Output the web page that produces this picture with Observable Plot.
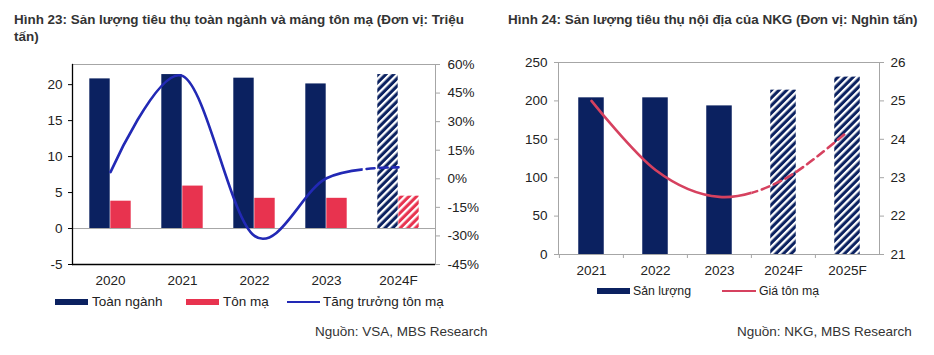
<!DOCTYPE html>
<html>
<head>
<meta charset="utf-8">
<script src="https://cdn.jsdelivr.net/npm/d3@7"></script>
<script src="https://cdn.jsdelivr.net/npm/@observablehq/plot@0.6"></script>
<style>
  body { margin: 0; background: #fff; font-family: "Liberation Sans", Arial, sans-serif; color: #222; }
  #page { position: relative; width: 934px; height: 355px; overflow: hidden; background: #fff; }
  .title { position: absolute; font-weight: bold; font-size: 13.45px; line-height: 17px; color: #333; white-space: nowrap; }
  .abs { position: absolute; white-space: nowrap; }
  .leg { position: absolute; font-size: 13.5px; line-height: 16px; white-space: nowrap; color: #222; }
  .sw { position: absolute; }
  .src { position: absolute; font-size: 13.5px; color: #333; white-space: nowrap; }
  svg { overflow: visible; }
</style>
</head>
<body>
<div id="page">
  <div class="title" style="left:14px; top:11px;">Hình 23: Sản lượng tiêu thụ toàn ngành và mảng tôn mạ (Đơn vị: Triệu<br>tấn)</div>
  <div class="title" style="left:508px; top:11px;">Hình 24: Sản lượng tiêu thụ nội địa của NKG (Đơn vị: Nghìn tấn)</div>
  <div id="c1" class="abs" style="left:0px; top:50px;"></div>
  <div id="c2" class="abs" style="left:470px; top:50px;"></div>

  <div class="sw" style="left:55px; top:299px; width:33px; height:6px; background:#0b2160;"></div>
  <div class="leg" style="left:92px; top:294px;">Toàn ngành</div>
  <div class="sw" style="left:186px; top:299px; width:33px; height:6px; background:#e8334f;"></div>
  <div class="leg" style="left:223px; top:294px;">Tôn mạ</div>
  <div class="sw" style="left:287px; top:301px; width:33px; height:2px; background:#2229b5;"></div>
  <div class="leg" style="left:323px; top:294px;">Tăng trưởng tôn mạ</div>

  <div class="sw" style="left:597px; top:288px; width:33px; height:6px; background:#0b2160;"></div>
  <div class="leg" style="left:633px; top:283px; font-size:12.3px;">Sản lượng</div>
  <div class="sw" style="left:722px; top:290px; width:34px; height:2px; background:#d6415f;"></div>
  <div class="leg" style="left:759px; top:283px; font-size:12.3px;">Giá tôn mạ</div>

  <div class="src" style="left:315px; top:324px;">Nguồn: VSA, MBS Research</div>
  <div class="src" style="left:737px; top:324px;">Nguồn: NKG, MBS Research</div>
</div>
<script>
// ---------- Data: chart 1 ----------
const years1 = ["2020", "2021", "2022", "2023", "2024F"];
const toanNganh = [20.8, 21.4, 20.9, 20.1, 21.4];
const tonMa = [3.8, 5.9, 4.2, 4.2, 4.5];
const tangTruong = [3.5, 54, -30, 0.3, 6];
const forecast1 = [false, false, false, false, true];
const leftTicks1 = [-5, 0, 5, 10, 15, 20];
const rightTicks1 = [-45, -30, -15, 0, 15, 30, 45, 60];

// ---------- Data: chart 2 ----------
const years2 = ["2021", "2022", "2023", "2024F", "2025F"];
const sanLuong = [204, 204, 193.5, 214, 231];
const giaTonMa = [25.0, 23.2, 22.5, 22.95, 24.2];
const forecast2 = [false, false, false, true, true];
const leftTicks2 = [0, 50, 100, 150, 200, 250];
const rightTicks2 = [21, 22, 23, 24, 25, 26];

const NAVY = "#0b2160", RED = "#e8334f", BLUE = "#2229b5", PINK = "#d6415f", GRAY = "#a6a6a6";
const FONT = "'Liberation Sans', Arial, sans-serif";

// dual-axis mapping
const y1Dom = [-5, 22.8], g1Dom = [-45, 60];
const g2l = g => y1Dom[0] + (g - g1Dom[0]) * (y1Dom[1] - y1Dom[0]) / (g1Dom[1] - g1Dom[0]);
const l2g = v => g1Dom[0] + (v - y1Dom[0]) * (g1Dom[1] - g1Dom[0]) / (y1Dom[1] - y1Dom[0]);
const y2Dom = [0, 250], p2Dom = [21, 26];
const p2l = p => y2Dom[0] + (p - p2Dom[0]) * (y2Dom[1] - y2Dom[0]) / (p2Dom[1] - p2Dom[0]);
const l2p = v => p2Dom[0] + (v - y2Dom[0]) * (p2Dom[1] - p2Dom[0]) / (y2Dom[1] - y2Dom[0]);

const d1 = years1.map((year, i) => ({year, total: toanNganh[i], tm: tonMa[i], g: tangTruong[i], f: forecast1[i]}));
const d2 = years2.map((year, i) => ({year, v: sanLuong[i], p: giaTonMa[i], f: forecast2[i]}));

function addPattern(defs, id, bg, fg) {
  const p = defs.append("pattern").attr("id", id).attr("patternUnits", "userSpaceOnUse")
    .attr("width", 5.4).attr("height", 5.4).attr("patternTransform", "rotate(45)");
  p.append("rect").attr("width", 5.4).attr("height", 5.4).attr("fill", bg);
  p.append("rect").attr("x", 0).attr("width", 2.3).attr("height", 5.4).attr("fill", fg);
}

function splitLines(svg, cutYear, idPrefix, W, H) {
  const sx = svg.scale("x");
  const xc = sx.apply(cutYear) + (sx.bandwidth || 0) / 2;
  const defs = d3.select(svg).select("defs");
  defs.append("clipPath").attr("id", idPrefix + "solid")
    .append("rect").attr("x", -10).attr("y", -50).attr("width", xc + 10).attr("height", H + 100);
  defs.append("clipPath").attr("id", idPrefix + "dash")
    .append("rect").attr("x", xc).attr("y", -50).attr("width", W).attr("height", H + 100);
  const lines = d3.select(svg).selectAll('g[aria-label="line"]').nodes();
  if (lines[0]) lines[0].setAttribute("clip-path", `url(#${idPrefix}solid)`);
  if (lines[1]) lines[1].setAttribute("clip-path", `url(#${idPrefix}dash)`);
}

// ---------- Chart 1 ----------
{
  const W = 470, H = 245, mL = 72, mR = 35, mT = 14, mB = 31;
  const step = (W - mL - mR) / years1.length;
  const bw = 21;
  const svg = Plot.plot({
    width: W, height: H, marginLeft: mL, marginRight: mR, marginTop: mT, marginBottom: mB,
    style: {fontFamily: FONT, fontSize: "13.5px", color: "#222", background: "transparent", overflow: "visible"},
    x: {type: "band", domain: years1, padding: 0},
    y: {domain: y1Dom},
    marks: [
      Plot.frame({stroke: GRAY}),
      Plot.barY(d1.filter(d => !d.f), {x: "year", y: "total", fill: NAVY, insetLeft: step / 2 - bw, insetRight: step / 2}),
      Plot.barY(d1.filter(d => d.f), {x: "year", y: "total", fill: "url(#hatchNavy1)", insetLeft: step / 2 - bw, insetRight: step / 2}),
      Plot.barY(d1.filter(d => !d.f), {x: "year", y: "tm", fill: RED, insetLeft: step / 2, insetRight: step / 2 - bw}),
      Plot.barY(d1.filter(d => d.f), {x: "year", y: "tm", fill: "url(#hatchRed1)", insetLeft: step / 2, insetRight: step / 2 - bw}),
      Plot.ruleY([0], {stroke: GRAY, strokeWidth: 1}),
      Plot.ruleY([y1Dom[0]], {stroke: "#000", strokeWidth: 1.3}),
      Plot.frame({anchor: "left", stroke: "#000", strokeWidth: 1.3}),
      Plot.line(d1, {x: "year", y: d => g2l(d.g), curve: "cardinal", stroke: BLUE, strokeWidth: 2.6}),
      Plot.line(d1, {x: "year", y: d => g2l(d.g), curve: "cardinal", stroke: BLUE, strokeWidth: 2.6, strokeDasharray: "8,5"}),
      Plot.axisY(leftTicks1, {anchor: "left", tickSize: 4, tickPadding: 6, stroke: "#000", tickFormat: d => String(d), label: null}),
      Plot.axisY(rightTicks1.map(g2l), {anchor: "right", tickSize: 4, tickPadding: 8, stroke: GRAY, tickFormat: d => Math.round(l2g(d)) + "%", label: null}),
      Plot.axisX({tickSize: 0, tickPadding: 11, label: null})
    ]
  });
  const defs = d3.select(svg).insert("defs", ":first-child");
  addPattern(defs, "hatchNavy1", NAVY, "#fff");
  addPattern(defs, "hatchRed1", RED, "#fff");
  splitLines(svg, "2023", "c1", W, H);
  document.getElementById("c1").appendChild(svg);
}

// ---------- Chart 2 ----------
{
  const W = 464, H = 240, mL = 88, mR = 55, mT = 12, mB = 36;
  const step = (W - mL - mR) / years2.length;
  const bw = 25.7;
  const svg = Plot.plot({
    width: W, height: H, marginLeft: mL, marginRight: mR, marginTop: mT, marginBottom: mB,
    style: {fontFamily: FONT, fontSize: "13.5px", color: "#222", background: "transparent", overflow: "visible"},
    x: {type: "band", domain: years2, padding: 0},
    y: {domain: y2Dom},
    marks: [
      Plot.frame({stroke: GRAY}),
      Plot.barY(d2.filter(d => !d.f), {x: "year", y: "v", fill: NAVY, insetLeft: (step - bw) / 2, insetRight: (step - bw) / 2}),
      Plot.barY(d2.filter(d => d.f), {x: "year", y: "v", fill: "url(#hatchNavy2)", insetLeft: (step - bw) / 2, insetRight: (step - bw) / 2}),
      Plot.line(d2, {x: "year", y: d => p2l(d.p), curve: "cardinal", stroke: PINK, strokeWidth: 2.6}),
      Plot.line(d2, {x: "year", y: d => p2l(d.p), curve: "cardinal", stroke: PINK, strokeWidth: 2.6, strokeDasharray: "8,5"}),
      Plot.axisY(leftTicks2, {anchor: "left", tickSize: 4, tickPadding: 7, stroke: GRAY, tickFormat: d => String(d), label: null}),
      Plot.axisY(rightTicks2.map(p2l), {anchor: "right", tickSize: 4, tickPadding: 7, stroke: GRAY, tickFormat: d => String(Math.round(l2p(d))), label: null}),
      Plot.axisX({tickSize: 4, tickFormat: () => "", stroke: GRAY, dx: -step / 2, label: null}),
      Plot.axisX({tickSize: 0, tickPadding: 11, label: null})
    ]
  });
  const defs = d3.select(svg).insert("defs", ":first-child");
  addPattern(defs, "hatchNavy2", NAVY, "#fff");
  splitLines(svg, "2023", "c2", W, H);
  document.getElementById("c2").appendChild(svg);
}
</script>
</body>
</html>
